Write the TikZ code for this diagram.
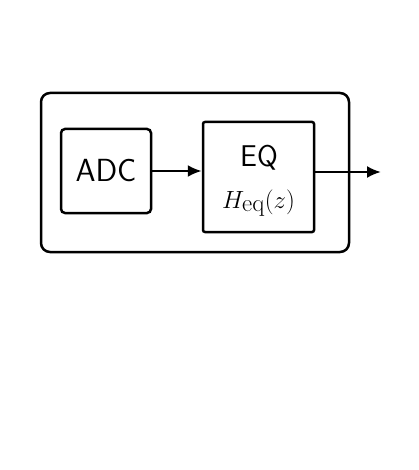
\documentclass[tikz,border=0pt]{standalone}
\usetikzlibrary{arrows.meta}
\begin{document}
\begin{tikzpicture}[x=1pt,y=-1pt,
  blk/.style={draw,line width=2.5pt,rounded corners=4pt,inner sep=0pt},
  conn/.style={line width=2.3pt,-{Latex[length=14pt,width=12pt]}},
  font=\sffamily]
\useasboundingbox (0,0) rectangle (418,470);
\node[draw,line width=2.5pt,rounded corners=9pt,minimum width=308pt,minimum height=159pt] (outer) at (195,172.5) {};
\node[blk,minimum width=90pt,minimum height=84pt,font=\fontsize{32}{38}\sffamily] (adc) at (106,171) {ADC};
\node[blk,rounded corners=2pt,minimum width=111pt,minimum height=110pt] (eq) at (258.5,177) {};
\node[anchor=base,inner sep=0pt,font=\fontsize{30}{36}\sffamily] (eqt) at (259,167) {EQ};
\node[anchor=base,inner sep=0pt,font=\fontsize{33}{40}\selectfont] (eqh) at (258.5,208) {$H_{\mathrm{eq}}(z)$};
\coordinate (out) at (381,172);
\draw[conn] (adc.east) -- (adc.east -| eq.west);
\draw[conn] (eq.east |- out) -- (out);
\end{tikzpicture}
\end{document}
